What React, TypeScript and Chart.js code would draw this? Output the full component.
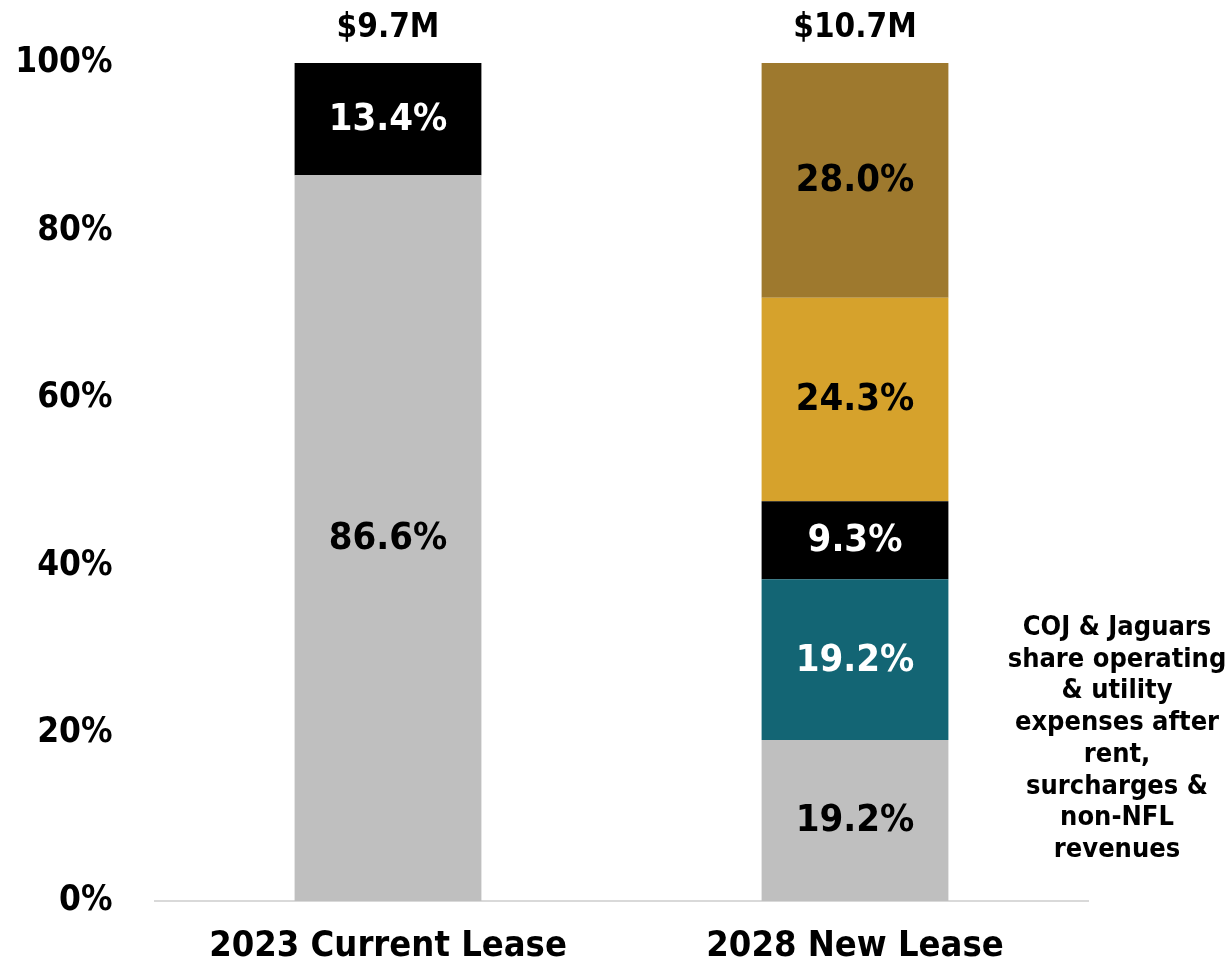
import React, { useEffect, useRef } from "react";
import { Chart, registerables } from "chart.js";

Chart.register(...registerables);

const categories = ["2023 Current Lease", "2028 New Lease"];
const totals = ["$9.7M", "$10.7M"];
const grayShare = [86.6, 19.2];
const tealShare = [0, 19.2];
const blackShare = [13.4, 9.3];
const goldShare = [0, 24.3];
const brownShare = [0, 28.0];
const yTicks = [0, 20, 40, 60, 80, 100];
const noteLines = [
  "COJ & Jaguars",
  "share operating",
  "& utility",
  "expenses after",
  "rent,",
  "surcharges &",
  "non-NFL",
  "revenues",
];

const FONT = "'DejaVu Sans Condensed', 'DejaVu Sans', sans-serif";

const labelsPlugin = {
  id: "customLabels",
  afterDatasetsDraw(chart: any) {
    const ctx = chart.ctx;
    ctx.save();
    ctx.textAlign = "center";
    ctx.textBaseline = "middle";
    chart.data.datasets.forEach((ds: any, di: number) => {
      const meta = chart.getDatasetMeta(di);
      meta.data.forEach((bar: any, i: number) => {
        const v = ds.data[i];
        if (!v) return;
        const mid = (bar.y + bar.base) / 2;
        ctx.fillStyle = ds.labelColor;
        ctx.font = `bold 38px ${FONT}`;
        ctx.fillText(v.toFixed(1) + "%", bar.x, mid + 1);
      });
    });
    // totals
    const topMeta = chart.getDatasetMeta(0);
    const yTop = chart.scales.y.getPixelForValue(100);
    ctx.fillStyle = "#000";
    ctx.font = `bold 33px ${FONT}`;
    topMeta.data.forEach((bar: any, i: number) => {
      ctx.fillText(totals[i], bar.x, yTop - 35);
    });
    // note
    ctx.font = `bold 27px ${FONT}`;
    const nx = 1117;
    noteLines.forEach((line, i) => {
      ctx.fillText(line, nx, 628 + i * 31.7);
    });
    ctx.restore();
  },
};

export default function App() {
  const ref = useRef<HTMLCanvasElement>(null);
  useEffect(() => {
    document.body.style.margin = "0";
    const mk = (label: string, data: number[], color: string, labelColor: string) => ({
      label,
      data,
      backgroundColor: color,
      labelColor,
      borderWidth: 0,
      barPercentage: 0.4,
      categoryPercentage: 1,
    });
    const chart = new Chart(ref.current!, {
      type: "bar",
      data: {
        labels: categories,
        datasets: [
          mk("gray", grayShare, "#bfbfbf", "#000"),
          mk("teal", tealShare, "#136574", "#fff"),
          mk("black", blackShare, "#000000", "#fff"),
          mk("gold", goldShare, "#d6a22c", "#000"),
          mk("brown", brownShare, "#9e792e", "#000"),
        ] as any,
      },
      options: {
        animation: false,
        responsive: false,
        maintainAspectRatio: false,
        layout: { padding: { top: 63, right: 140.5, left: 0, bottom: 0 } },
        plugins: { legend: { display: false }, tooltip: { enabled: false } },
        scales: {
          x: {
            stacked: true,
            grid: { display: false, drawTicks: false },
            border: { display: true, color: "#d9d9d9", width: 2 },
            ticks: {
              color: "#000",
              font: { family: FONT, size: 36, weight: "bold" },
              padding: 24,
              maxRotation: 0,
              autoSkip: false,
            },
            afterFit(s: any) {
              s.height = 75;
            },
          },
          y: {
            stacked: true,
            min: 0,
            max: 100,
            afterBuildTicks(s: any) {
              s.ticks = yTicks.map((v) => ({ value: v }));
            },
            grid: { display: false, drawTicks: false },
            border: { display: false },
            ticks: {
              color: "#000",
              font: { family: FONT, size: 35, weight: "bold" },
              padding: 42,
              callback: (v: any) => v + "%",
            },
            afterFit(s: any) {
              s.width = 154.5;
            },
          },
        },
      },
      plugins: [labelsPlugin],
    });
    return () => chart.destroy();
  }, []);
  return (
    <div style={{ width: 1229, height: 976 }}>
      <canvas ref={ref} width={1229} height={976} style={{ display: "block" }} />
    </div>
  );
}
